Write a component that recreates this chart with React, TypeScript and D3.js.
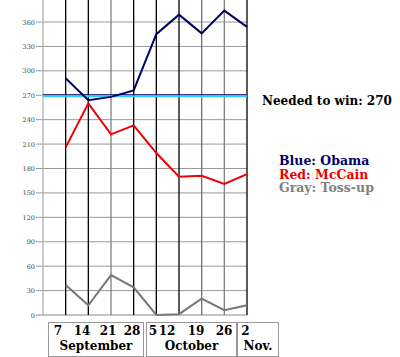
import React from "react";
import * as d3 from "d3";

const weeks = ["Sep 7", "Sep 14", "Sep 21", "Sep 28", "Oct 5", "Oct 12", "Oct 19", "Oct 26", "Nov 2"];
const obama = [291, 264, 268, 276, 345, 369, 346, 374, 354];
const mccain = [206, 260, 222, 233, 199, 170, 171, 161, 173];
const tossup = [37, 12, 49, 34, 0, 1, 20, 6, 12];
const yTicks = [0, 30, 60, 90, 120, 150, 180, 210, 240, 270, 300, 330, 360];
const months = ["September", "October", "Nov."];
const monthDays = [["7", "14", "21", "28"], ["5", "12", "19", "26"], ["2"]];
const needed = 270;
const legend = [
  { text: "Blue: Obama", color: "#000066" },
  { text: "Red: McCain", color: "#ee0000" },
  { text: "Gray: Toss-up", color: "#808080" },
];

// layout
const W = 400, H = 357;
const x = d3.scaleLinear().domain([0, weeks.length]).range([43, 247]);
const y = d3.scaleLinear().domain([0, 360]).range([315, 22]);
const vColors = ["#b0b0b0", "#000", "#000", "#808080", "#000", "#000", "#000", "#707070", "#808080", "#000"];
const boxes = [
  { x0: 48, x1: 143, dayX: [58, 82, 108, 132] },
  { x0: 146, x1: 236, dayX: [153, 167, 196, 224] },
  { x0: 237, x1: 278, dayX: [245.5] },
];
const serif = "'DejaVu Serif', 'Liberation Serif', serif";

export default function App() {
  const line = d3
    .line<number>()
    .x((_, i) => x(i + 1))
    .y((d) => y(d));
  const series = [
    { data: tossup, color: "#777777" },
    { data: mccain, color: "#ee0000" },
    { data: obama, color: "#000066" },
  ];
  return (
    <svg width={W} height={H} style={{ position: "absolute", left: 0, top: 0, background: "#fff" }}>
      {/* horizontal gridlines */}
      {yTicks.map((t) => (
        <line key={"h" + t} x1={36} x2={x(weeks.length)} y1={y(t)} y2={y(t)} stroke={t === 0 ? "#888" : "#999"} strokeWidth={1} />
      ))}
      <line x1={x(0)} x2={x(weeks.length)} y1={y(390)} y2={y(390)} stroke="#999" />
      {/* vertical lines */}
      {d3.range(weeks.length + 1).map((i) => (
        <line key={"v" + i} x1={x(i)} x2={x(i)} y1={0} y2={y(0)} stroke={vColors[i]} strokeWidth={1.3} />
      ))}
      {/* tick labels */}
      {yTicks.map((t) => (
        <text key={"t" + t} x={35} y={y(t) + 2.5} textAnchor="end" fontFamily={serif} fontSize={6.5} fill="#444">
          {t}
        </text>
      ))}
      {/* needed line */}
      <line x1={x(0)} x2={x(weeks.length)} y1={y(needed) - 0.5} y2={y(needed) - 0.5} stroke="#000066" strokeWidth={1} />
      <line x1={x(0)} x2={x(weeks.length)} y1={y(needed) + 1} y2={y(needed) + 1} stroke="#33ccff" strokeWidth={2} />
      {/* series */}
      {series.map((s, k) => (
        <path key={"s" + k} d={line(s.data) || ""} fill="none" stroke={s.color} strokeWidth={2} strokeLinejoin="miter" />
      ))}
      {/* month boxes */}
      {months.map((m, k) => {
        const b = boxes[k];
        return (
          <g key={"m" + k}>
            <rect x={b.x0 + 0.5} y={322.5} width={b.x1 - b.x0} height={34} fill="#fff" stroke="#999" strokeWidth={1} />
            {monthDays[k].map((d, j) => (
              <text key={d} x={b.dayX[j]} y={335} textAnchor="middle" fontFamily={serif} fontWeight="bold" fontSize={12} fill="#000">
                {d}
              </text>
            ))}
            <text x={(b.x0 + b.x1) / 2 + 0.5} y={350} textAnchor="middle" fontFamily={serif} fontWeight="bold" fontSize={12} fill="#000">
              {m}
            </text>
          </g>
        );
      })}
      {/* annotations */}
      <text x={262} y={105} fontFamily={serif} fontWeight="bold" fontSize={12} fill="#000">
        Needed to win: {needed}
      </text>
      {legend.map((l, i) => (
        <text key={l.text} x={279} y={165 + i * 13.5} fontFamily={serif} fontWeight="bold" fontSize={12.5} fill={l.color}>
          {l.text}
        </text>
      ))}
    </svg>
  );
}
